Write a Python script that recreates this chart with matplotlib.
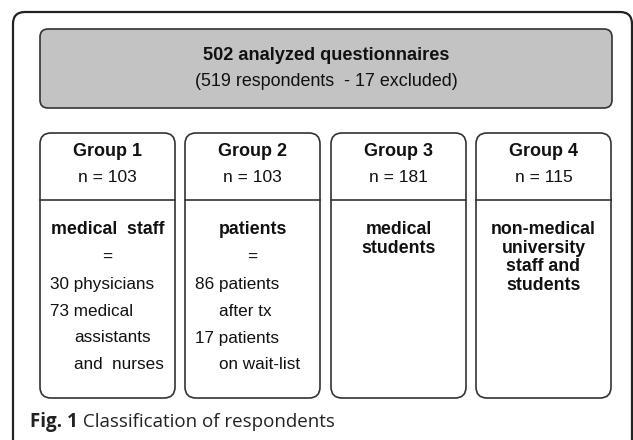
import matplotlib
matplotlib.use("Agg")
import matplotlib.pyplot as plt
from matplotlib.patches import FancyBboxPatch

# ---- data ----
title_main = "502 analyzed questionnaires"
title_sub = "(519 respondents  - 17 excluded)"
groups = ["Group 1", "Group 2", "Group 3", "Group 4"]
group_n = [103, 103, 181, 115]
group_heads = ["medical  staff", "patients", "medical\nstudents", "non-medical\nuniversity\nstaff and\nstudents"]
group_details = [
    [("30", "physicians", []), ("73", "medical", ["assistants", "and  nurses"])],
    [("86", "patients", ["after tx"]), ("17", "patients", ["on wait-list"])],
    [],
    [],
]
caption_bold = "Fig. 1"
caption_text = " Classification of respondents"

W, H = 633, 440
fig = plt.figure(figsize=(W / 100, H / 100), dpi=100)
ax = fig.add_axes([0, 0, 1, 1])
ax.set_xlim(0, W)
ax.set_ylim(H, 0)
ax.axis("off")

edge = "#333333"
ink = "#111111"
sans = ["Liberation Sans", "DejaVu Sans"]

# outer frame (cut off at the bottom)
outer = FancyBboxPatch((13, 12), 619, 470, boxstyle="round,pad=0,rounding_size=12",
                       fc="white", ec="#222222", lw=1.6, clip_on=True)
ax.add_patch(outer)

# top gray box
top = FancyBboxPatch((40, 29), 572, 79, boxstyle="round,pad=0,rounding_size=8",
                     fc="#c3c3c3", ec=edge, lw=1.2)
ax.add_patch(top)
ax.text(326, 55, title_main, ha="center", va="center", fontsize=13.1,
        fontweight="bold", family=sans, color=ink)
ax.text(326, 81, title_sub, ha="center", va="center", fontsize=12.9,
        family=sans, color=ink)

# group boxes
lefts = [40, 185, 331, 476]
width = 135
ytop, ybot, ydiv = 133, 398, 200
for i, g in enumerate(groups):
    x0 = lefts[i]
    cx = x0 + width / 2
    box = FancyBboxPatch((x0, ytop), width, ybot - ytop,
                         boxstyle="round,pad=0,rounding_size=11",
                         fc="white", ec=edge, lw=1.2)
    ax.add_patch(box)
    ax.plot([x0, x0 + width], [ydiv, ydiv], color=edge, lw=1.2)
    ax.text(cx, 152, g, ha="center", va="center", fontsize=13,
            fontweight="bold", family=sans, color=ink)
    ax.text(cx, 178, f"n = {group_n[i]}", ha="center", va="center",
            fontsize=12.5, family=sans, color=ink)
    if group_details[i]:
        ax.text(cx, 230, group_heads[i], ha="center", va="center",
                fontsize=12.8, fontweight="bold", family=sans, color=ink)
        ax.text(cx, 257, "=", ha="center", va="center", fontsize=12.3,
                family=sans, color=ink)
        y = 285
        for num, word, cont in group_details[i]:
            ax.text(x0 + 10, y, f"{num} {word}", ha="left", va="center",
                    fontsize=12.3, family=sans, color=ink)
            y += 26.5
            for c in cont:
                ax.text(x0 + 34, y, c, ha="left", va="center",
                        fontsize=12.3, family=sans, color=ink)
                y += 26.5
    else:
        ax.text(cx, 221, group_heads[i], ha="center", va="top",
                fontsize=12.8, fontweight="bold", family=sans, color=ink,
                linespacing=1.12)

# caption
cap_font = ["Open Sans", "DejaVu Sans"]
t = ax.text(30, 422, caption_bold, ha="left", va="center", fontsize=13.5,
            fontweight="bold", family=cap_font, color="#222222")
ax.annotate(caption_text, xy=(1, 0.5), xycoords=t, ha="left", va="center",
            fontsize=13.5, family=cap_font, color="#222222")

fig.savefig("out.png", dpi=100)
